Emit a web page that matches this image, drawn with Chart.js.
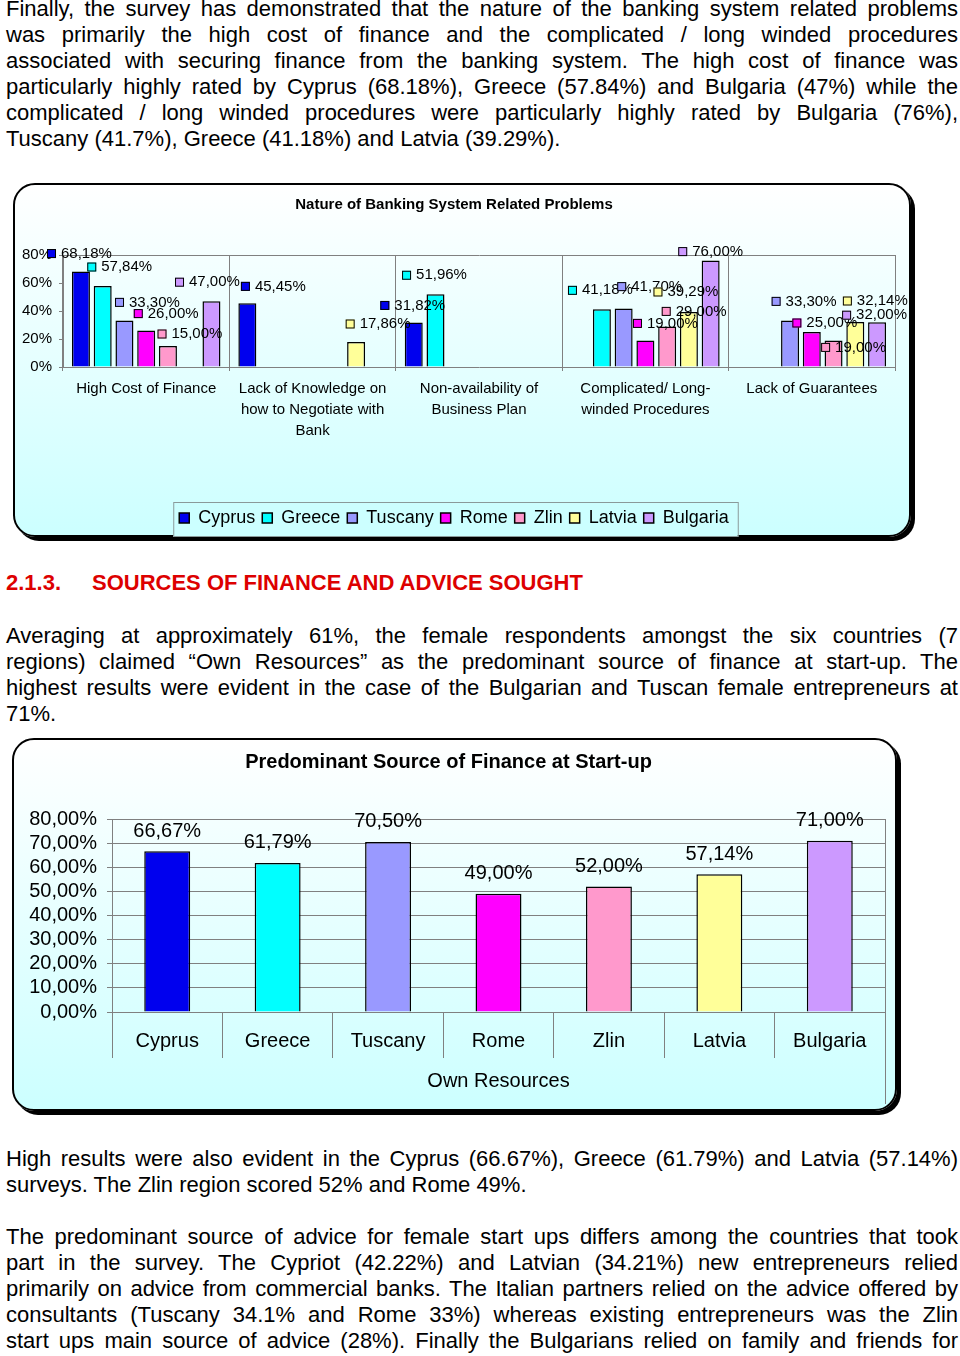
<!DOCTYPE html>
<html>
<head>
<meta charset="utf-8">
<script src="https://cdn.jsdelivr.net/npm/chart.js@4.4.1/dist/chart.umd.min.js"></script>
<style>
  body { margin:0; background:#fff; width:960px; height:1356px; position:relative; overflow:hidden;
         font-family:"Liberation Sans", Arial, sans-serif; color:#000; }
  .ln { position:absolute; left:6px; width:952px; font-size:22px; line-height:26px; white-space:nowrap;
        text-align:justify; text-align-last:justify; }
  .ln.last { text-align-last:left; }
  .head { position:absolute; top:570px; font-size:22px; line-height:26px; font-weight:bold; color:#dd0000; }
  .box { position:absolute; box-sizing:border-box; border:2px solid #000; border-radius:22px;
         box-shadow:4px 4px 0 #000; background:linear-gradient(#ffffff, #ccffff); }
  canvas { position:absolute; }
</style>
</head>
<body>

<div class="ln" style="top:-4px">Finally, the survey has demonstrated that the nature of the banking system related problems</div>
<div class="ln" style="top:22px">was primarily the high cost of finance and the complicated / long winded procedures</div>
<div class="ln" style="top:48px">associated with securing finance from the banking system. The high cost of finance was</div>
<div class="ln" style="top:74px">particularly highly rated by Cyprus (68.18%), Greece (57.84%) and Bulgaria (47%) while the</div>
<div class="ln" style="top:100px">complicated / long winded procedures were particularly highly rated by Bulgaria (76%),</div>
<div class="ln last" style="top:126px">Tuscany (41.7%), Greece (41.18%) and Latvia (39.29%).</div>

<div class="box" style="left:13px;top:183px;width:898px;height:354px"></div>
<canvas id="problems" width="898" height="354" style="left:13px;top:183px"></canvas>

<div class="head" style="left:6px">2.1.3.</div>
<div class="head" style="left:92px">SOURCES OF FINANCE AND ADVICE SOUGHT</div>

<div class="ln" style="top:623px">Averaging at approximately 61%, the female respondents amongst the six countries (7</div>
<div class="ln" style="top:649px">regions) claimed “Own Resources” as the predominant source of finance at start-up. The</div>
<div class="ln" style="top:675px">highest results were evident in the case of the Bulgarian and Tuscan female entrepreneurs at</div>
<div class="ln last" style="top:701px">71%.</div>

<div class="box" style="left:12px;top:738px;width:885px;height:373px"></div>
<canvas id="finance" width="885" height="373" style="left:12px;top:738px"></canvas>

<div class="ln" style="top:1146px">High results were also evident in the Cyprus (66.67%), Greece (61.79%) and Latvia (57.14%)</div>
<div class="ln last" style="top:1172px">surveys. The Zlin region scored 52% and Rome 49%.</div>

<div class="ln" style="top:1224px">The predominant source of advice for female start ups differs among the countries that took</div>
<div class="ln" style="top:1250px">part in the survey. The Cypriot (42.22%) and Latvian (34.21%) new entrepreneurs relied</div>
<div class="ln" style="top:1276px">primarily on advice from commercial banks. The Italian partners relied on the advice offered by</div>
<div class="ln" style="top:1302px">consultants (Tuscany 34.1% and Rome 33%) whereas existing entrepreneurs was the Zlin</div>
<div class="ln" style="top:1328px">start ups main source of advice (28%). Finally the Bulgarians relied on family and friends for</div>

<script>
// chart 1 data
const problemCats = [
  'High Cost of Finance',
  ['Lack of Knowledge on', 'how to Negotiate with', 'Bank'],
  ['Non-availability of', 'Business Plan'],
  ['Complicated/ Long-', 'winded Procedures'],
  'Lack of Guarantees'
];
const countries = ['Cyprus', 'Greece', 'Tuscany', 'Rome', 'Zlin', 'Latvia', 'Bulgaria'];
const cyprus   = [68.18, 45.45, 31.82, null, null];
const greece   = [57.84, null, 51.96, 41.18, null];
const tuscany  = [33.30, null, null, 41.70, 33.30];
const rome     = [26.00, null, null, 19.00, 25.00];
const zlin     = [15.00, null, null, 29.00, 19.00];
const latvia   = [null, 17.86, null, 39.29, 32.14];
const bulgaria = [47.00, null, null, 76.00, 32.00];
const problemTicks = [0, 20, 40, 60, 80];

// chart 2 data
const ownResources = [66.67, 61.79, 70.50, 49.00, 52.00, 57.14, 71.00];
const financeTicks = [0, 10, 20, 30, 40, 50, 60, 70, 80];

const countryColors = ['#0000ee', '#00ffff', '#9999ff', '#ff00ff', '#ff99cc', '#ffff99', '#cc99ff'];
const problemSeries = [cyprus, greece, tuscany, rome, zlin, latvia, bulgaria];

const fmt = v => v.toFixed(2).replace('.', ',') + '%';
const FONT = '"Liberation Sans", Arial, sans-serif';
Chart.defaults.font.family = FONT;
Chart.defaults.color = '#000';

// label shifts (dx, rise above bar top) like the hand-placed excel labels
const labelNudge = {
  '0-0': [-1.5, 18], '1-0': [17, 19], '2-0': [23, 18], '3-0': [20, 17], '4-0': [22, 12], '6-0': [-4, 19],
  '0-1': [26, 17], '5-1': [22, 18],
  '0-2': [-1, 17], '1-2': [-1, 19],
  '1-3': [-1.5, 19], '2-3': [26, 22], '3-3': [20, 17], '4-3': [27, 15], '5-3': [-3, 20], '6-3': [0, 9],
  '2-4': [14, 19], '3-4': [13, 9], '4-4': [20, -7], '5-4': [20, 21], '6-4': [-2.5, 7]
};

const keyLabels = {
  id: 'keyLabels',
  afterDatasetsDraw(chart) {
    const ctx = chart.ctx;
    ctx.save();
    ctx.font = '15px ' + FONT;
    ctx.textBaseline = 'middle';
    chart.data.datasets.forEach((ds, d) => {
      chart.getDatasetMeta(d).data.forEach((bar, i) => {
        const v = ds.data[i];
        if (v == null) return;
        const nudge = labelNudge[d + '-' + i] || [0, 18];
        const txt = fmt(v);
        const w = 14 + ctx.measureText(txt).width;
        const x0 = bar.x + nudge[0] - w / 2;
        const cy = bar.y - nudge[1];
        ctx.fillStyle = ds.backgroundColor;
        ctx.fillRect(x0, cy - 4.5, 9, 9);
        ctx.strokeStyle = '#000';
        ctx.lineWidth = 1;
        ctx.strokeRect(x0 + 0.5, cy - 4, 8, 8);
        ctx.fillStyle = '#000';
        ctx.fillText(txt, x0 + 14, cy);
      });
    });
    ctx.restore();
  }
};

const legendFrame = {
  id: 'legendFrame',
  beforeDraw(chart) {
    const lg = chart.legend;
    if (!lg || !lg.legendHitBoxes.length) return;
    const hb = lg.legendHitBoxes;
    const left = Math.min(...hb.map(b => b.left)) - 6;
    const right = Math.max(...hb.map(b => b.left + b.width)) + 9;
    const ctx = chart.ctx;
    ctx.save();
    ctx.fillStyle = '#ccffff';
    ctx.fillRect(left, lg.top, right - left, lg.bottom - lg.top);
    ctx.strokeStyle = '#8a9a9a';
    ctx.lineWidth = 1;
    ctx.strokeRect(left + 0.5, lg.top + 0.5, right - left, lg.bottom - lg.top - 1);
    ctx.restore();
  }
};

new Chart(document.getElementById('problems'), {
  type: 'bar',
  data: {
    labels: problemCats,
    datasets: countries.map((c, i) => ({
      label: c,
      data: problemSeries[i],
      backgroundColor: countryColors[i],
      borderColor: '#000',
      borderWidth: 1.5,
      categoryPercentage: 0.915,
      barPercentage: 0.827
    }))
  },
  options: {
    responsive: false,
    animation: false,
    layout: { padding: { left: 0, right: 16, top: 0, bottom: 0 } },
    plugins: {
      title: { display: true, text: 'Nature of Banking System Related Problems', color: '#000',
               font: { size: 15, weight: 'bold' }, padding: { top: 13, bottom: 41 } },
      legend: { position: 'bottom',
                labels: { boxWidth: 10, boxHeight: 10, color: '#000', font: { size: 18 }, padding: 7 } },
      tooltip: { enabled: false }
    },
    scales: {
      x: {
        grid: { color: '#808080', offset: true, tickLength: 4 },
        border: { color: '#808080' },
        ticks: { color: '#000', font: { size: 15, lineHeight: 1.4 }, padding: 7.5, maxRotation: 0, autoSkip: false },
        afterFit(s) { s.height = 135; }
      },
      y: {
        min: 0, max: 80,
        afterBuildTicks(s) { s.ticks = problemTicks.map(v => ({ value: v })); },
        ticks: { callback: v => v + '%', color: '#000', font: { size: 15 }, padding: 7, autoSkip: false },
        grid: { color: c => c.tick && c.tick.value === 80 ? '#808080' : 'rgba(0,0,0,0)', tickColor: '#808080', tickLength: 4 },
        border: { color: '#808080' },
        afterFit(s) { s.width = 50; }
      }
    }
  },
  plugins: [legendFrame, keyLabels]
});

const topLabels = {
  id: 'topLabels',
  afterDatasetsDraw(chart) {
    const ctx = chart.ctx;
    ctx.save();
    ctx.font = '20px ' + FONT;
    ctx.textAlign = 'center';
    ctx.textBaseline = 'middle';
    ctx.fillStyle = '#000';
    chart.getDatasetMeta(0).data.forEach((bar, i) => {
      ctx.fillText(fmt(chart.data.datasets[0].data[i]), bar.x, bar.y - 20);
    });
    // plot frame right edge
    const a = chart.chartArea;
    ctx.strokeStyle = '#808080';
    ctx.lineWidth = 1;
    ctx.beginPath();
    ctx.moveTo(Math.round(a.right) + 0.5, a.top);
    ctx.lineTo(Math.round(a.right) + 0.5, chart.scales.x.bottom + 7);
    ctx.stroke();
    ctx.restore();
  }
};

new Chart(document.getElementById('finance'), {
  type: 'bar',
  data: {
    labels: countries,
    datasets: [{
      label: 'Own Resources',
      data: ownResources,
      backgroundColor: countryColors,
      borderColor: '#000',
      borderWidth: 1.5,
      categoryPercentage: 0.8,
      barPercentage: 0.52
    }]
  },
  options: {
    responsive: false,
    animation: false,
    layout: { padding: { left: 0, right: 12, top: 0, bottom: 14 } },
    plugins: {
      title: { display: true, text: 'Predominant Source of Finance at Start-up', color: '#000',
               font: { size: 20, weight: 'bold' }, padding: { top: 12, bottom: 45 } },
      legend: { display: false },
      tooltip: { enabled: false }
    },
    scales: {
      x: {
        grid: { color: '#808080', offset: true, drawOnChartArea: false, tickLength: 46 },
        border: { color: '#808080' },
        ticks: { color: '#000', font: { size: 20 }, padding: -29, maxRotation: 0 },
        title: { display: true, text: 'Own Resources', color: '#000', font: { size: 20 }, padding: { top: 4, bottom: 4 } },
        afterFit(s) { s.height = 85; }
      },
      y: {
        min: 0, max: 80,
        afterBuildTicks(s) { s.ticks = financeTicks.map(v => ({ value: v })); },
        ticks: { callback: v => fmt(v), color: '#000', font: { size: 20 }, padding: 10, autoSkip: false },
        grid: { color: '#808080', tickLength: 5 },
        border: { color: '#808080' },
        afterFit(s) { s.width = 100; }
      }
    }
  },
  plugins: [topLabels]
});
</script>
</body>
</html>
